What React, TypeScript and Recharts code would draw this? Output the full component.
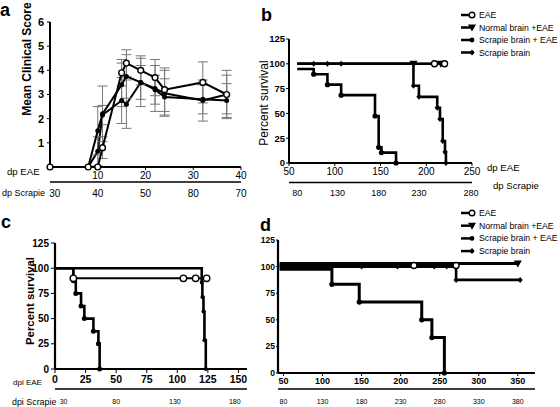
import React from "react";
import { LineChart, Line, XAxis, YAxis, ErrorBar } from "recharts";

const FONT = "'Liberation Sans', Arial, sans-serif";

// ---- panel a: mean clinical score
const daysA = [0, 8, 10, 11, 15, 16, 19, 22, 24, 32, 37];
const scoreEae = [0, 0, 0, 0.8, 3.9, 4.3, 4.0, 3.7, 3.2, 3.5, 3.0];
const errEae = [0, 0, 0, 0.45, 0.55, 0.55, 0.6, 0.75, 0.9, 0.85, 1.0];
const scoreScrEae = [0, 0, 1.5, 2.2, 3.4, 3.75, 3.5, 3.2, 2.9, 2.8, 2.75];
const errScrEae = [0, 0, 1.0, 1.15, 0.9, 0.9, 0.7, 0.6, 0.75, 0.6, 0.7];
const scoreNbEae = [0, 0, 0.65, 2.15, 2.75, 2.6, 3.5, 3.25, 3.05, 2.75, 3.0];
const errNbEae = [0, 0, 0.6, 0.4, 0.95, 1.0, 1.0, 0.95, 0.95, 0.85, 0.8];
const ticksA = [10, 20, 30, 40];
const scoreTicks = [1, 2, 3, 4, 5, 6];
const scrTicksA = [1, 10, 20, 30, 40];
const scrLabelsA = ["30", "40", "50", "80", "70"];

// ---- panel b: survival (dp EAE)
const bEaeDays = [59, 209, 220];
const bEaeSurv = [100, 100, 100];
const bNbDays = [59, 186, 216];
const bNbSurv = [100, 100, 100];
const bScrEaeDays = [59, 77, 92, 107, 144, 148, 151, 167];
const bScrEaeSurv = [94.7, 89.5, 79, 68.4, 47.4, 15.8, 10.5, 0];
const bScrDays = [59, 77, 92, 107, 186, 192, 212, 215, 218, 220.5, 221.5];
const bScrSurv = [100, 100, 100, 100, 77.8, 66.7, 55.6, 44.4, 22.2, 11.1, 0];
const ticksB = [50, 100, 150, 200, 250];
const scrTicksB = [59, 103, 148, 192, 249];
const scrLabelsB = ["80", "130", "180", "230", "280"];

// ---- panel c: survival (dpi EAE)
const cEaeDays = [0, 15, 105, 115, 124];
const cEaeSurv = [100, 90, 90, 90, 90];
const cScrDays = [0, 120, 120.5, 121.4, 122.2, 123.3];
const cScrSurv = [100, 85.7, 71.4, 57.1, 28.6, 0];
const cScrEaeDays = [0, 15, 17, 21.3, 24, 31.4, 35.5, 36.5];
const cScrEaeSurv = [100, 87.5, 75, 62.5, 50, 37.5, 25, 0];
const ticksC = [0, 25, 50, 75, 100, 125, 150];
const scrTicksC = [7, 50, 98, 147];
const scrLabelsC = ["30", "80", "130", "180"];

// ---- panel d: survival
const dEaeDays = [45, 217, 271];
const dEaeSurv = [101, 101, 101];
const dNbDays = [45, 350];
const dNbSurv = [103, 103];
const dScrDays = [45, 150, 196, 243, 259, 271, 353];
const dScrSurv = [100, 100, 100, 100, 100, 87.5, 87.5];
const dScrEaeDays = [45, 112, 147, 227, 240, 256];
const dScrEaeSurv = [97.5, 83.3, 66.7, 50, 33.3, 0];
const ticksD = [50, 100, 150, 200, 250, 300, 350];
const scrLabelsD = ["80", "130", "180", "230", "280", "330", "380"];

const survTicks = [0, 25, 50, 75, 100, 125];
const legendNames = ["EAE", "Normal brain +EAE", "Scrapie brain + EAE", "Scrapie brain"];

type Shape = "open" | "filled" | "tri" | "diamond";
const legendShapes: Shape[] = ["open", "tri", "filled", "diamond"];

const toPts = (xs: number[], ys: number[]) => xs.map((x, i) => ({ x, y: ys[i] }));
// rows for the second (scrapie) day axis, so that axis has values of its own
const tickRows = (xs: number[]) => xs.map((x) => ({ x }));

function Marker({ cx, cy, shape, r = 2.6 }: { cx: number; cy: number; shape: Shape; r?: number }) {
  if (shape === "open")
    return <circle cx={cx} cy={cy} r={r + 0.4} fill="#fff" stroke="#000" strokeWidth={1.4} />;
  if (shape === "filled") return <circle cx={cx} cy={cy} r={r} fill="#000" />;
  if (shape === "tri")
    return (
      <polygon
        points={`${cx - 4},${cy - 3} ${cx + 4},${cy - 3} ${cx},${cy + 4}`}
        fill="#000"
      />
    );
  return (
    <polygon
      points={`${cx},${cy - 3} ${cx + 2.6},${cy} ${cx},${cy + 3} ${cx - 2.6},${cy}`}
      fill="#000"
    />
  );
}

const markerDot = (shape: Shape, skipFirst: boolean, r = 2.6) => (p: any) => {
  const key = `m-${p.index}`;
  if (p.cx == null || p.cy == null || (skipFirst && p.index === 0)) return <g key={key} />;
  return (
    <g key={key}>
      <Marker cx={p.cx} cy={p.cy} shape={shape} r={r} />
    </g>
  );
};

const axisLine = (w: number) => ({ stroke: "#000", strokeWidth: w });
const tickLine = { stroke: "#000", strokeWidth: 1 };
const tickFont = (size: number, bold = false) => ({
  fontSize: size,
  fontWeight: bold ? 700 : 400,
  fill: "#000",
});
const labelFrom = (ticks: number[], labels: string[]) => (v: number) =>
  labels[ticks.indexOf(v)] ?? "";

function PanelA() {
  const table = daysA.map((day, i) => ({
    day,
    eae: scoreEae[i],
    eaeErr: errEae[i],
    scrEae: scoreScrEae[i],
    scrEaeErr: errScrEae[i],
    nbEae: scoreNbEae[i],
    nbEaeErr: errNbEae[i],
  }));
  const series: [string, string, Shape][] = [
    ["nbEae", "nbEaeErr", "filled"],
    ["scrEae", "scrEaeErr", "filled"],
    ["eae", "eaeErr", "open"],
  ];
  return (
    <div style={{ position: "absolute", left: 0, top: 0 }}>
      <LineChart width={262} height={205} data={table} margin={{ top: 22, right: 21, bottom: 3, left: 20 }}>
        <XAxis
          dataKey="day"
          type="number"
          domain={[0, 40]}
          ticks={ticksA}
          interval={0}
          height={15}
          tickSize={3}
          tickMargin={2}
          axisLine={axisLine(2)}
          tickLine={tickLine}
          tick={tickFont(10)}
        />
        <XAxis
          xAxisId="s"
          dataKey="day"
          type="number"
          domain={[0, 40]}
          ticks={scrTicksA}
          tickFormatter={labelFrom(scrTicksA, scrLabelsA)}
          interval={0}
          height={20}
          tickSize={5}
          tickMargin={3}
          tickLine={false}
          axisLine={axisLine(1.5)}
          tick={tickFont(10)}
        />
        <YAxis
          type="number"
          domain={[0, 6]}
          ticks={scoreTicks}
          interval={0}
          width={30}
          tickSize={3}
          tickMargin={3}
          axisLine={axisLine(2)}
          tickLine={tickLine}
          tick={tickFont(11, true)}
        />
        {series.map(([key, errKey, shape]) => (
          <Line
            key={key}
            dataKey={key}
            stroke="#000"
            strokeWidth={2}
            dot={markerDot(shape, false, 2.5)}
            activeDot={false}
            isAnimationActive={false}
          >
            <ErrorBar dataKey={errKey} direction="y" width={5} stroke="#777" strokeWidth={1} />
          </Line>
        ))}
      </LineChart>
    </div>
  );
}

type Curve = { name: string; days: number[]; surv: number[]; shape: Shape; w: number; r?: number };

function SurvLines(curves: Curve[]) {
  return curves.map((c) => (
    <Line
      key={c.name}
      name={c.name}
      data={toPts(c.days, c.surv)}
      dataKey="y"
      type="stepAfter"
      stroke="#000"
      strokeWidth={c.w}
      dot={markerDot(c.shape, true, c.r ?? 2.6)}
      activeDot={false}
      isAnimationActive={false}
    />
  ));
}

function PanelB() {
  const curves: Curve[] = [
    { name: "Scrapie brain + EAE", days: bScrEaeDays, surv: bScrEaeSurv, shape: "filled", w: 2.6 },
    { name: "Scrapie brain", days: bScrDays, surv: bScrSurv, shape: "diamond", w: 2.6 },
    { name: "Normal brain +EAE", days: bNbDays, surv: bNbSurv, shape: "tri", w: 2.6 },
    { name: "EAE", days: bEaeDays, surv: bEaeSurv, shape: "open", w: 2.2 },
  ];
  return (
    <div style={{ position: "absolute", left: 262, top: 0 }}>
      <LineChart width={298} height={205} data={tickRows(scrTicksB)} margin={{ top: 39, right: 88, bottom: 2, left: 1 }}>
        <XAxis
          dataKey="x"
          type="number"
          domain={[50, 250]}
          ticks={ticksB}
          interval={0}
          height={19.5}
          tickSize={3}
          tickMargin={2}
          axisLine={axisLine(2)}
          tickLine={tickLine}
          tick={tickFont(10)}
        />
        <XAxis
          xAxisId="s"
          dataKey="x"
          type="number"
          domain={[50, 250]}
          ticks={scrTicksB}
          tickFormatter={labelFrom(scrTicksB, scrLabelsB)}
          interval={0}
          height={20.5}
          tickSize={4}
          tickMargin={3}
          tickLine={false}
          axisLine={axisLine(1.5)}
          tick={tickFont(9)}
        />
        <YAxis
          type="number"
          domain={[0, 125]}
          ticks={survTicks}
          interval={0}
          width={26}
          tickSize={3}
          tickMargin={1}
          axisLine={axisLine(2)}
          tickLine={tickLine}
          tick={tickFont(9.5, true)}
        />
        {SurvLines(curves)}
      </LineChart>
    </div>
  );
}

function PanelC() {
  const curves: Curve[] = [
    { name: "Scrapie brain", days: cScrDays, surv: cScrSurv, shape: "filled", w: 2.6, r: 2 },
    { name: "Scrapie brain + EAE", days: cScrEaeDays, surv: cScrEaeSurv, shape: "filled", w: 2.6, r: 2.5 },
    { name: "EAE", days: cEaeDays, surv: cEaeSurv, shape: "open", w: 2, r: 2.8 },
  ];
  return (
    <div style={{ position: "absolute", left: 0, top: 205 }}>
      <LineChart width={262} height={202} data={tickRows(scrTicksC)} margin={{ top: 38, right: 15, bottom: 0, left: 25 }}>
        <XAxis
          dataKey="x"
          type="number"
          domain={[0, 157]}
          ticks={ticksC}
          interval={0}
          height={20}
          tickSize={4}
          tickMargin={3}
          axisLine={axisLine(2.2)}
          tickLine={tickLine}
          tick={tickFont(10.5, true)}
        />
        <XAxis
          xAxisId="s"
          dataKey="x"
          type="number"
          domain={[0, 157]}
          ticks={scrTicksC}
          tickFormatter={labelFrom(scrTicksC, scrLabelsC)}
          interval={0}
          height={18}
          tickSize={6}
          tickMargin={4}
          tickLine={false}
          axisLine={axisLine(1.5)}
          tick={tickFont(7)}
        />
        <YAxis
          type="number"
          domain={[0, 125]}
          ticks={survTicks}
          interval={0}
          width={30}
          tickSize={4}
          tickMargin={2}
          axisLine={axisLine(2.2)}
          tickLine={tickLine}
          tick={tickFont(10, true)}
        />
        {SurvLines(curves)}
      </LineChart>
    </div>
  );
}

function PanelD() {
  const curves: Curve[] = [
    { name: "Scrapie brain + EAE", days: dScrEaeDays, surv: dScrEaeSurv, shape: "filled", w: 3 },
    { name: "Scrapie brain", days: dScrDays, surv: dScrSurv, shape: "diamond", w: 2.6 },
    { name: "EAE", days: dEaeDays, surv: dEaeSurv, shape: "open", w: 2.2 },
    { name: "Normal brain +EAE", days: dNbDays, surv: dNbSurv, shape: "tri", w: 3 },
  ];
  return (
    <div style={{ position: "absolute", left: 255, top: 205 }}>
      <LineChart width={305} height={202} data={tickRows(ticksD)} margin={{ top: 35, right: 25, bottom: 0, left: 0 }}>
        <XAxis
          dataKey="x"
          type="number"
          domain={[43, 372]}
          ticks={ticksD}
          interval={0}
          height={16}
          tickSize={3}
          tickMargin={2}
          axisLine={axisLine(2.2)}
          tickLine={tickLine}
          tick={tickFont(9, true)}
        />
        <XAxis
          xAxisId="s"
          dataKey="x"
          type="number"
          domain={[43, 372]}
          ticks={ticksD}
          tickFormatter={labelFrom(ticksD, scrLabelsD)}
          interval={0}
          height={18}
          tickSize={6}
          tickMargin={4}
          tickLine={false}
          axisLine={axisLine(1.5)}
          tick={tickFont(7)}
        />
        <YAxis
          type="number"
          domain={[0, 125]}
          ticks={survTicks}
          interval={0}
          width={23}
          tickSize={2}
          tickMargin={1}
          axisLine={axisLine(2.2)}
          tickLine={tickLine}
          tick={tickFont(8.5, true)}
        />
        {SurvLines(curves)}
      </LineChart>
    </div>
  );
}

// legend box: its own small svg placed at (left, top), rows `step` apart
function LegendBox({ left, top, step }: { left: number; top: number; step: number }) {
  return (
    <svg
      width={100}
      height={4 * step + 6}
      style={{ position: "absolute", left, top, pointerEvents: "none" }}
      fontFamily={FONT}
    >
      {legendNames.map((name, i) => {
        const cy = 6 + i * step;
        return (
          <g key={name}>
            <line x1={0} x2={13} y1={cy} y2={cy} stroke="#000" strokeWidth={2.5} />
            <Marker cx={11} cy={cy} shape={legendShapes[i]} r={2.4} />
            <text x={18} y={cy} fontSize={8.7} dominantBaseline="central">
              {name}
            </text>
          </g>
        );
      })}
    </svg>
  );
}

function Overlay() {
  return (
    <svg
      width={560}
      height={407}
      style={{ position: "absolute", left: 0, top: 0, pointerEvents: "none" }}
      fontFamily={FONT}
    >
      <text x={0} y={16} fontSize={18} fontWeight={700}>a</text>
      <text x={261} y={21} fontSize={18} fontWeight={700}>b</text>
      <text x={1} y={228} fontSize={18} fontWeight={700}>c</text>
      <text x={260} y={231} fontSize={18} fontWeight={700}>d</text>

      <text x={27} y={59} fontSize={12} fontWeight={700} textAnchor="middle"
        dominantBaseline="central" transform="rotate(-90 27 59)">Mean Clinical Score</text>
      <text x={7} y={171} fontSize={9.6} dominantBaseline="central">dp EAE</text>
      <text x={2} y={193} fontSize={9} dominantBaseline="central">dp Scrapie</text>

      <text x={264} y={103} fontSize={12} textAnchor="middle"
        dominantBaseline="central" transform="rotate(-90 264 103)">Percent survival</text>
      <text x={487} y={167} fontSize={9.6} dominantBaseline="central">dp EAE</text>
      <text x={493} y={185} fontSize={9.6} dominantBaseline="central">dp Scrapie</text>

      <text x={30} y={301} fontSize={11.4} fontWeight={700} textAnchor="middle"
        dominantBaseline="central" transform="rotate(-90 30 301)">Percent survival</text>
      <text x={13} y={382.5} fontSize={8} dominantBaseline="central">dpi EAE</text>
      <text x={12} y={402} fontSize={8.9} dominantBaseline="central">dpi Scrapie</text>
    </svg>
  );
}

export default function App() {
  return (
    <div
      style={{
        position: "absolute",
        left: 0,
        top: 0,
        width: 560,
        height: 407,
        background: "#fff",
        fontFamily: FONT,
        overflow: "hidden",
      }}
    >
      <PanelA />
      <PanelB />
      <PanelC />
      <PanelD />
      <Overlay />
      <LegendBox left={461} top={9} step={12.5} />
      <LegendBox left={461} top={207.3} step={12.7} />
    </div>
  );
}
